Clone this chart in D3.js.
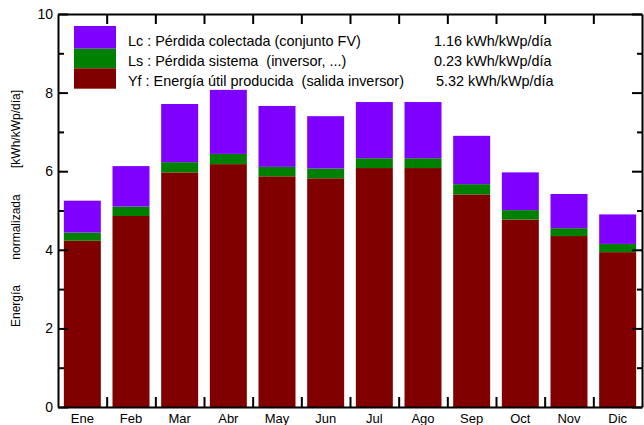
<!DOCTYPE html>
<html><head><meta charset="utf-8">
<script src="https://cdn.jsdelivr.net/npm/d3@7"></script>
<style>
html,body{margin:0;padding:0;background:#fff;}
svg{display:block;font-family:"Liberation Sans",Arial,sans-serif;}
</style></head>
<body><svg id="c" width="644" height="425"></svg>
<script>
const months = ["Ene","Feb","Mar","Abr","May","Jun","Jul","Ago","Sep","Oct","Nov","Dic"];
const Yf = [4.23,4.86,5.97,6.18,5.87,5.82,6.08,6.08,5.41,4.77,4.35,3.94];
const Ls = [0.21,0.24,0.26,0.26,0.24,0.25,0.25,0.25,0.26,0.24,0.20,0.21];
const Lc = [0.81,1.03,1.48,1.63,1.55,1.33,1.43,1.43,1.23,0.96,0.87,0.75];
const seriesKeys = ["Yf","Ls","Lc"];
const seriesColors = ["#800000","#008000","#8000ff"];
const legendLabels = ["Lc : Pérdida colectada (conjunto FV)","Ls : Pérdida sistema  (inversor, ...)","Yf : Energía útil producida  (salida inversor)"];
const legendValues = ["1.16 kWh/kWp/día","0.23 kWh/kWp/día","5.32 kWh/kWp/día"];
const legendColors = ["#8000ff","#008000","#800000"];
const yTitleParts = ["Energía","normalizada","[kWh/kWp/día]"];

const L=58, R=642, T=14, B=407;
const svg = d3.select("#c");
const x = d3.scaleBand().domain(months).range([L,R]).paddingInner(0.24).paddingOuter(0.12);
const xi = d3.scaleLinear().domain([0,12]).range([L,R]);
const y = d3.scaleLinear().domain([0,10]).range([B,T]);

const rows = months.map((m,i)=>({m, Yf:Yf[i], Ls:Ls[i], Lc:Lc[i]}));
const stacked = d3.stack().keys(seriesKeys)(rows);

svg.append("g").selectAll("g").data(stacked).join("g")
  .attr("fill",(d,i)=>seriesColors[i])
  .selectAll("rect").data(d=>d).join("rect")
  .attr("x",d=>x(d.data.m)).attr("width",x.bandwidth())
  .attr("y",d=>y(d[1])).attr("height",d=>y(d[0])-y(d[1]));

const major = d3.range(0,11,2), minor = d3.range(1,10,2);
function styleAxis(g){ g.selectAll("path.domain").attr("stroke","#000").attr("stroke-width",2);
  g.selectAll(".tick line").attr("stroke","#000").attr("stroke-width",2);
  g.selectAll("text").attr("fill","#000"); }

// left
svg.append("g").attr("transform",`translate(${L},0)`)
  .call(d3.axisLeft(y).tickValues(major).tickSizeInner(-10).tickSizeOuter(0).tickPadding(5).tickFormat(d3.format("d")))
  .call(g=>g.selectAll("text").attr("font-size",14).attr("font-family","Liberation Sans, Arial, sans-serif"))
  .call(styleAxis);
svg.append("g").attr("transform",`translate(${L},0)`)
  .call(d3.axisLeft(y).tickValues(minor).tickSizeInner(-6).tickSizeOuter(0).tickFormat(""))
  .call(styleAxis).call(g=>g.select(".domain").remove());
// right
svg.append("g").attr("transform",`translate(${R},0)`)
  .call(d3.axisRight(y).tickValues(major).tickSizeInner(-10).tickSizeOuter(0).tickFormat(""))
  .call(styleAxis);
svg.append("g").attr("transform",`translate(${R},0)`)
  .call(d3.axisRight(y).tickValues(minor).tickSizeInner(-5).tickSizeOuter(0).tickFormat(""))
  .call(styleAxis).call(g=>g.select(".domain").remove());
// top
svg.append("g").attr("transform",`translate(0,${T})`)
  .call(d3.axisTop(xi).tickValues(d3.range(1,12)).tickSizeInner(-10).tickSizeOuter(0).tickFormat(""))
  .call(styleAxis);
// bottom
svg.append("g").attr("transform",`translate(0,${B})`)
  .call(d3.axisBottom(xi).tickValues(d3.range(1,12)).tickSizeInner(-10).tickSizeOuter(0).tickFormat(""))
  .call(styleAxis);
svg.append("g").attr("transform",`translate(0,${B})`)
  .call(d3.axisBottom(x).tickSize(0).tickPadding(7))
  .call(g=>g.select(".domain").remove())
  .call(g=>g.selectAll("text").attr("font-size",13).attr("font-family","Liberation Sans, Arial, sans-serif").attr("fill","#000"));

// y title
const yTitleY = [306,227,129];
svg.append("g").selectAll("text").data(yTitleParts).join("text")
  .attr("transform",(d,i)=>`translate(20,${yTitleY[i]}) rotate(-90)`)
  .attr("text-anchor","middle").attr("font-size",12).attr("fill","#000").text(d=>d);

// legend
const lg = svg.append("g");
const sw = [[26,48.7],[48.7,68.3],[68.3,88.7]];
lg.selectAll("rect").data(legendColors).join("rect")
  .attr("x",74).attr("width",42)
  .attr("y",(d,i)=>sw[i][0]).attr("height",(d,i)=>sw[i][1]-sw[i][0]).attr("fill",d=>d);
lg.selectAll("text.lab").data(legendLabels).join("text").attr("class","lab")
  .attr("x",128).attr("y",(d,i)=>46+20*i).attr("font-size",14.4).attr("fill","#000")
  .style("white-space","pre").text(d=>d);
lg.selectAll("text.val").data(legendValues).join("text").attr("class","val")
  .attr("x",(d,i)=>[434,434,436][i]).attr("y",(d,i)=>46+20*i).attr("font-size",14.4).attr("fill","#000")
  .text(d=>d);
</script></body></html>
